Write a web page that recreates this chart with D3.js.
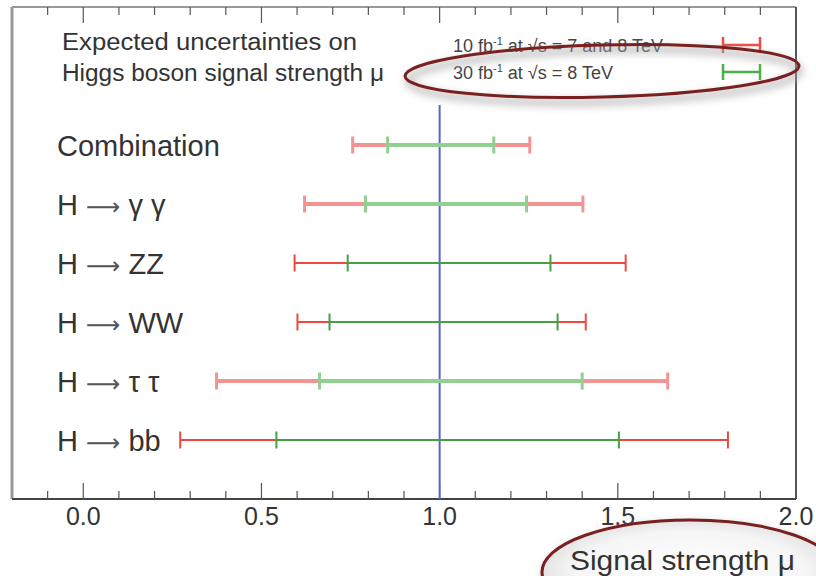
<!DOCTYPE html>
<html><head><meta charset="utf-8">
<script src="https://cdn.jsdelivr.net/npm/d3@7"></script>
<style>
html,body{margin:0;padding:0;background:#fff;}
svg{display:block;font-family:"Liberation Sans",Arial,sans-serif;}
</style></head>
<body>
<svg id="chart" width="816" height="576"></svg>
<script>
// ---- data ----
const categories = ["Combination", "H → γ γ", "H → ZZ", "H → WW", "H → τ τ", "H → bb"];
const redLow  = [0.756, 0.621, 0.593, 0.601, 0.374, 0.272];
const redHigh = [1.253, 1.402, 1.522, 1.410, 1.640, 1.809];
const greenLow  = [0.854, 0.792, 0.742, 0.691, 0.663, 0.542];
const greenHigh = [1.152, 1.244, 1.311, 1.331, 1.400, 1.503];
const thickRow = [true, true, false, false, true, false];
const tickLabels = ["0.0", "0.5", "1.0", "1.5", "2.0"];
const majorTicks = [0.0, 0.5, 1.0, 1.5, 2.0];
const minorTicks = [-0.1, 0.1, 0.2, 0.3, 0.4, 0.6, 0.7, 0.8, 0.9, 1.1, 1.2, 1.3, 1.4, 1.6, 1.7, 1.8, 1.9];
const legendLabels = ["10 fb", "30 fb"];
const legendRest = [" at  √s = 7 and 8 TeV", " at  √s = 8 TeV"];
const titleLines = ["Expected uncertainties on", "Higgs boson signal strength μ"];
const axisTitle = "Signal strength μ";

// ---- layout ----
const svg = d3.select("#chart");
const L = 12, R = 796, T = 7, B = 499;
const x = d3.scaleLinear().domain([-0.2, 2.0]).range([L, R]);
const y = d3.scalePoint().domain(categories).range([145, 440]);

const defs = svg.append("defs");
const blur = defs.append("filter").attr("id","blur").attr("x","-20%").attr("y","-40%").attr("width","140%").attr("height","180%");
blur.append("feGaussianBlur").attr("stdDeviation", 4);
const rg = defs.append("radialGradient").attr("id","rg").attr("cx","50%").attr("cy","50%").attr("r","55%");
rg.append("stop").attr("offset","0%").attr("stop-color","#ffffff");
rg.append("stop").attr("offset","70%").attr("stop-color","#f6f6f6");
rg.append("stop").attr("offset","100%").attr("stop-color","#dddddd");

// frame
svg.append("line").attr("x1",L).attr("x2",L).attr("y1",T).attr("y2",B).attr("stroke","#999").attr("stroke-width",3);
svg.append("line").attr("x1",L).attr("x2",R).attr("y1",T).attr("y2",T).attr("stroke","#999").attr("stroke-width",2);
svg.append("line").attr("x1",R).attr("x2",R).attr("y1",T).attr("y2",B).attr("stroke","#555").attr("stroke-width",2);
svg.append("line").attr("x1",L).attr("x2",R).attr("y1",B).attr("y2",B).attr("stroke","#444").attr("stroke-width",2);

// ticks (bottom and top)
function ticks(vals, len){
  svg.append("g").selectAll("line").data(vals).join("line")
    .attr("x1",d=>x(d)).attr("x2",d=>x(d)).attr("y1",B).attr("y2",B-len)
    .attr("stroke","#555").attr("stroke-width",1.2);
  svg.append("g").selectAll("line").data(vals).join("line")
    .attr("x1",d=>x(d)).attr("x2",d=>x(d)).attr("y1",T).attr("y2",T+len)
    .attr("stroke","#555").attr("stroke-width",1.2);
}
ticks(majorTicks, 16);
ticks(minorTicks, 8);

svg.append("g").selectAll("text").data(majorTicks).join("text")
  .attr("x",d=>x(d)).attr("y",525).attr("text-anchor","middle")
  .attr("font-size",25).attr("fill","#333").text((d,i)=>tickLabels[i]);

// vertical line at 1
svg.append("line").attr("x1",x(1)).attr("x2",x(1)).attr("y1",105).attr("y2",B)
  .attr("stroke","#5566c4").attr("stroke-width",2);

// category labels (long arrow in a wider font)
svg.append("g").selectAll("text").data(categories).join("text")
  .attr("x",57).attr("y",d=>y(d)+11).attr("font-size",29).attr("fill","#333")
  .each(function(d){
    const t = d3.select(this);
    const parts = d.split("→");
    if (parts.length === 1) { t.text(d); return; }
    t.append("tspan").text(parts[0]);
    t.append("tspan").attr("font-family","DejaVu Sans").attr("font-size",24).attr("fill","#555").text("⟶");
    t.append("tspan").text(parts[1]);
  });

// error bars
function bar(g, lo, hi, yy, color, w, cap){
  g.append("line").attr("x1",x(lo)).attr("x2",x(hi)).attr("y1",yy).attr("y2",yy)
    .attr("stroke",color).attr("stroke-width",w);
  [lo,hi].forEach(v=>g.append("line").attr("x1",x(v)).attr("x2",x(v))
    .attr("y1",yy-cap/2).attr("y2",yy+cap/2).attr("stroke",color).attr("stroke-width",Math.max(2,w-1)));
}
const gb = svg.append("g");
categories.forEach((c,i)=>{
  const yy = y(c);
  const thick = thickRow[i];
  bar(gb, redLow[i], redHigh[i], yy, thick ? "#f39494" : "#ec4a40", thick ? 4 : 2, 17);
  bar(gb, greenLow[i], greenHigh[i], yy, thick ? "#92d092" : "#45a045", thick ? 4 : 2.2, 17);
});

// title
svg.append("g").selectAll("text").data(titleLines).join("text")
  .attr("x",62).attr("y",(d,i)=>50+i*31).attr("font-size",23.5).attr("fill","#333")
  .attr("textLength",(d,i)=>i===0?295:322).attr("lengthAdjust","spacingAndGlyphs")
  .text(d=>d);

// legend
const legColors = ["#ee4a42","#4caf4c"];
const legY = [45, 72];
legendLabels.forEach((lab,i)=>{
  const t = svg.append("text").attr("x",453).attr("y",legY[i]+7).attr("font-size",18).attr("fill","#444");
  t.append("tspan").text(lab);
  t.append("tspan").attr("font-size",11).attr("dy",-7).text("-1");
  t.append("tspan").attr("dy",7).text(legendRest[i]);
  const g = svg.append("g");
  g.append("line").attr("x1",723).attr("x2",760).attr("y1",legY[i]).attr("y2",legY[i]).attr("stroke",legColors[i]).attr("stroke-width",2.5);
  [723,760].forEach(xx=>g.append("line").attr("x1",xx).attr("x2",xx).attr("y1",legY[i]-8).attr("y2",legY[i]+8).attr("stroke",legColors[i]).attr("stroke-width",2.5));
});

// annotation ellipses
svg.append("ellipse").attr("cx",604).attr("cy",76).attr("rx",196).attr("ry",26)
  .attr("transform","rotate(-1.5 604 76)")
  .attr("fill","none").attr("stroke","#aaa").attr("stroke-width",5).attr("filter","url(#blur)");
svg.append("ellipse").attr("cx",602).attr("cy",71).attr("rx",197).attr("ry",26)
  .attr("transform","rotate(-1.5 602 71)")
  .attr("fill","none").attr("stroke","#7b2020").attr("stroke-width",3);

svg.append("ellipse").attr("cx",692).attr("cy",577).attr("rx",150).attr("ry",55)
  .attr("fill","#bbb").attr("filter","url(#blur)");
svg.append("ellipse").attr("cx",690).attr("cy",572).attr("rx",148).attr("ry",52)
  .attr("fill","url(#rg)").attr("stroke","#7b2020").attr("stroke-width",3);

svg.append("text").attr("x",570).attr("y",570).attr("font-size",28).attr("fill","#333")
  .attr("textLength",225).attr("lengthAdjust","spacingAndGlyphs").text(axisTitle);
</script>
</body></html>
